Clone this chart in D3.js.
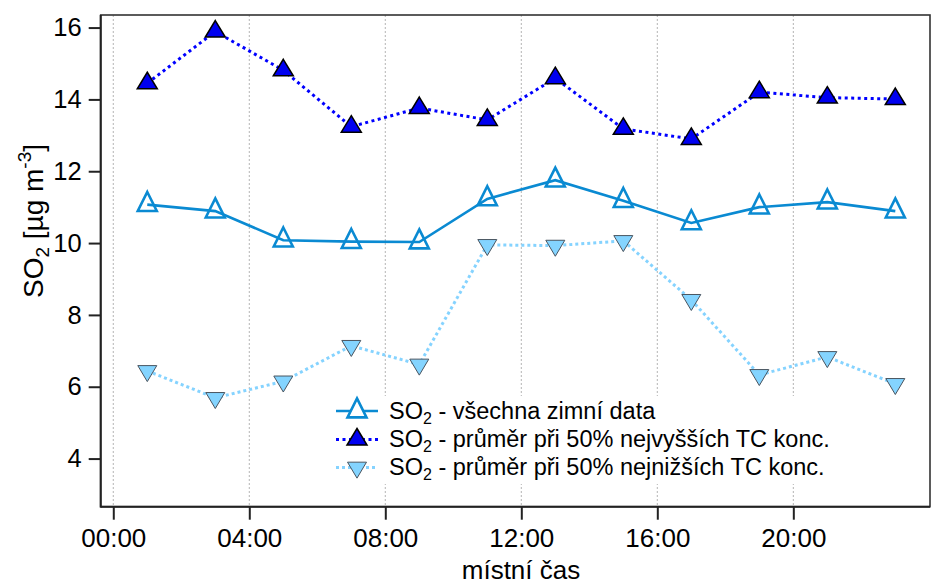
<!DOCTYPE html>
<html>
<head>
<meta charset="utf-8">
<script src="https://cdn.jsdelivr.net/npm/d3@7"></script>
<style>
  html, body { margin: 0; padding: 0; background: #fff; }
  svg { display: block; font-family: "Liberation Sans", Arial, sans-serif; }
</style>
</head>
<body>
<svg id="chart" width="932" height="586"></svg>
<script>
// ---- data ----
const hours = [1, 3, 5, 7, 9, 11, 13, 15, 17, 19, 21, 23];
const allData = [11.07, 10.89, 10.08, 10.04, 10.03, 11.23, 11.75, 11.18, 10.56, 11.00, 11.14, 10.89];
const highTC  = [14.45, 15.89, 14.81, 13.24, 13.76, 13.43, 14.59, 13.18, 12.90, 14.20, 14.05, 14.01];
const lowTC   = [6.44, 5.69, 6.15, 7.14, 6.62, 9.95, 9.93, 10.06, 8.42, 6.33, 6.83, 6.08];
const xTickHours  = [0, 4, 8, 12, 16, 20];
const xTickLabels = ["00:00", "04:00", "08:00", "12:00", "16:00", "20:00"];
const yTicks = [4, 6, 8, 10, 12, 14, 16];
const nameAll  = "všechna zimní data";
const nameHigh = "průměr při 50% nejvyšších TC konc.";
const nameLow  = "průměr při 50% nejnižších TC konc.";

// ---- layout ----
const L = 100.7, R = 930, T = 15, B = 506.7;
const svg = d3.select("#chart");
const x = d3.scaleLinear().domain([-0.37, 24.02]).range([L, R]);
const y = d3.scaleLinear().domain([2.66, 16.35]).range([B, T]);

// gridlines
svg.append("g").selectAll("line").data(xTickHours).join("line")
  .attr("x1", d => x(d)).attr("x2", d => x(d))
  .attr("y1", T).attr("y2", B)
  .attr("stroke", "#b4b4b4").attr("stroke-width", 1)
  .attr("stroke-dasharray", "2,2");

// axes
const yAxis = d3.axisLeft(y).tickValues(yTicks).tickSize(12).tickPadding(7).tickFormat(d3.format("d"));
const gy = svg.append("g").attr("transform", `translate(${L},0)`).call(yAxis);
gy.select(".domain").remove();
gy.selectAll(".tick line").attr("stroke", "#222").attr("stroke-width", 2);
gy.selectAll(".tick text").attr("font-size", 25.5).attr("fill", "#000")
  .attr("font-family", "Liberation Sans, Arial, sans-serif");

const xAxis = d3.axisBottom(x).tickValues(xTickHours).tickSize(13).tickPadding(9)
  .tickFormat((d, i) => xTickLabels[i]);
const gx = svg.append("g").attr("transform", `translate(0,${B})`).call(xAxis);
gx.select(".domain").remove();
gx.selectAll(".tick line").attr("stroke", "#222").attr("stroke-width", 2);
gx.selectAll(".tick text").attr("font-size", 26).attr("fill", "#000")
  .attr("font-family", "Liberation Sans, Arial, sans-serif");

// frame
svg.append("rect").attr("x", L).attr("y", T).attr("width", R - L).attr("height", B - T)
  .attr("fill", "none").attr("stroke", "#333").attr("stroke-width", 1.6);
svg.append("line").attr("x1", L).attr("x2", L).attr("y1", T).attr("y2", B + 0.8)
  .attr("stroke", "#222").attr("stroke-width", 2);
svg.append("line").attr("x1", L).attr("x2", R).attr("y1", B).attr("y2", B)
  .attr("stroke", "#222").attr("stroke-width", 2);

// marker path generators (centroid at origin)
function triUp(w, h) { return `M0,${-2*h/3}L${w/2},${h/3}L${-w/2},${h/3}Z`; }
function triDown(w, h) { return `M0,${2*h/3}L${w/2},${-h/3}L${-w/2},${-h/3}Z`; }

const sLow  = { name: nameLow,  vals: lowTC,   line: "#85d3ff", lw: 3,   dash: "3,3",   marker: triDown(19, 16),  fill: "#84d4ff", stroke: "#4a5560", sw: 1 };
const sAll  = { name: nameAll,  vals: allData, line: "#0a8ad2", lw: 2.6, dash: null,    marker: triUp(19, 19),    fill: "none",    stroke: "#0a8ad2", sw: 2.6 };
const sHigh = { name: nameHigh, vals: highTC,  line: "#0000ff", lw: 3,   dash: "3,3.5", marker: triUp(20, 16.5),  fill: "#0000f0", stroke: "#000",    sw: 1.5 };
const drawOrder = [sLow, sAll, sHigh];
const legendOrder = [sAll, sHigh, sLow];

const lineGen = d3.line().x((d, i) => x(hours[i])).y(d => y(d));
drawOrder.forEach(s => {
  svg.append("path").datum(s.vals).attr("d", lineGen)
    .attr("fill", "none").attr("stroke", s.line).attr("stroke-width", s.lw)
    .attr("stroke-dasharray", s.dash);
});
drawOrder.forEach(s => {
  svg.append("g").selectAll("path").data(s.vals).join("path")
    .attr("transform", (d, i) => `translate(${x(hours[i])},${y(d)})`)
    .attr("d", s.marker)
    .attr("fill", s.fill).attr("stroke", s.stroke).attr("stroke-width", s.sw)
    .attr("stroke-linejoin", "miter");
});

// axis titles
svg.append("text").attr("x", 521).attr("y", 579).attr("text-anchor", "middle")
  .attr("font-size", 26).attr("fill", "#000").text("místní čas");

const yt = svg.append("text").attr("transform", "translate(43,221) rotate(-90)")
  .attr("text-anchor", "middle").attr("font-size", 28).attr("fill", "#000");
yt.append("tspan").text("SO");
yt.append("tspan").attr("font-size", 19).attr("dy", 6).text("2");
yt.append("tspan").attr("dy", -6).text(" [µg m");
yt.append("tspan").attr("font-size", 19).attr("dy", -12).text("-3");
yt.append("tspan").attr("dy", 12).text("]");

// legend
const lg = svg.append("g");
lg.append("rect").attr("x", 333).attr("y", 396).attr("width", 510).attr("height", 88).attr("fill", "#fff");
const rowY = [411, 439.5, 467.5];
legendOrder.forEach((s, r) => {
  const cy = rowY[r];
  lg.append("line").attr("x1", 336).attr("x2", 378).attr("y1", cy).attr("y2", cy)
    .attr("stroke", s.line).attr("stroke-width", s.lw).attr("stroke-dasharray", s.dash);
  lg.append("path").attr("transform", `translate(357,${cy})`).attr("d", s.marker)
    .attr("fill", s.fill === "none" ? "#fff" : s.fill).attr("stroke", s.stroke).attr("stroke-width", s.sw);
  const t = lg.append("text").attr("x", 389).attr("y", cy + 7.5).attr("font-size", 23.5).attr("fill", "#000");
  t.append("tspan").text("SO");
  t.append("tspan").attr("font-size", 16).attr("dy", 5).text("2");
  t.append("tspan").attr("dy", -5).text(" - " + s.name);
});
</script>
</body>
</html>
